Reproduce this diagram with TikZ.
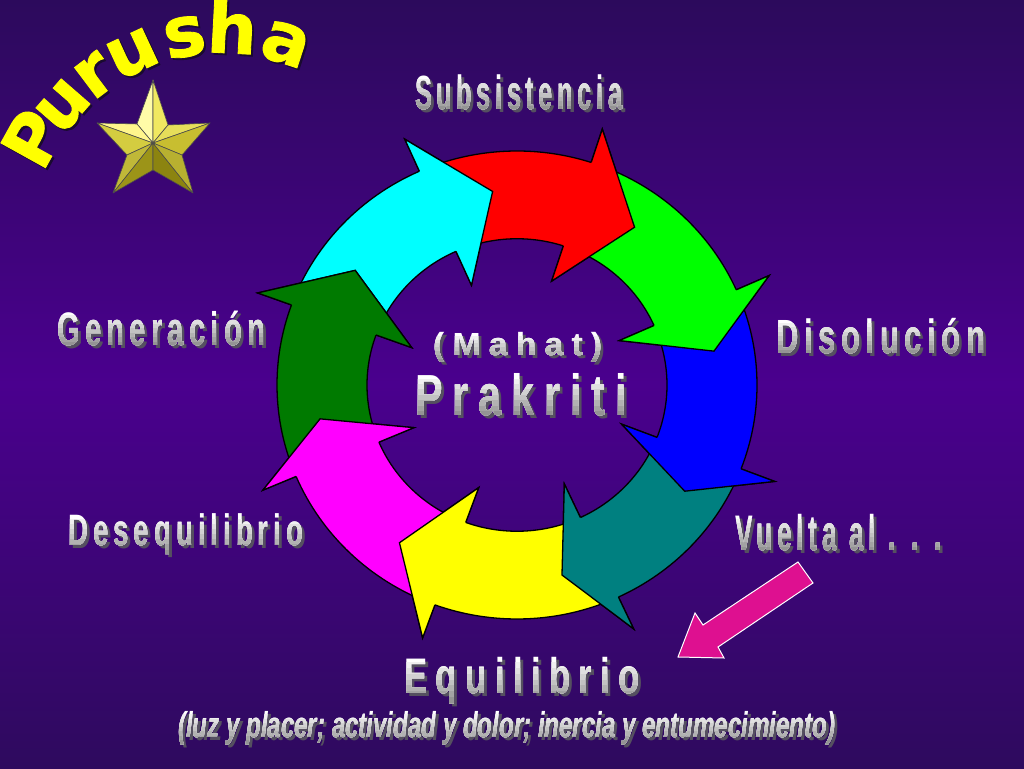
\documentclass[tikz,border=0pt]{standalone}
\usepackage{fontspec}
\setmainfont{Liberation Sans}
\newfontfamily\labf[LetterSpace=18]{Liberation Sans}
\newfontfamily\labw[LetterSpace=24]{Liberation Sans}
\newfontfamily\purf[BoldFeatures={FakeBold=1.2}]{DejaVu Sans}
\usetikzlibrary{calc}
\definecolor{bgtop}{HTML}{2C0A5C}
\definecolor{bgmid}{HTML}{4A008E}
\definecolor{bgbot}{HTML}{2E0A5E}
\definecolor{cyanA}{HTML}{00FFFF}
\definecolor{redA}{HTML}{FF0000}
\definecolor{greenA}{HTML}{00FF00}
\definecolor{blueA}{HTML}{0000FF}
\definecolor{tealA}{HTML}{008080}
\definecolor{yellowA}{HTML}{FFFF00}
\definecolor{magentaA}{HTML}{FF00FF}
\definecolor{dkgreenA}{HTML}{007A00}
\definecolor{pinkA}{HTML}{DE1090}
\definecolor{shadowc}{HTML}{555060}
\definecolor{purshadow}{HTML}{1A0A30}
\tikzset{
  ringline/.style={draw=black, line width=1.3pt, line join=miter},
  lblnode/.style={anchor=base west, inner sep=0pt},
  purletter/.style={anchor=base, inner sep=0pt, font=\purf\fontsize{70}{72}\selectfont\bfseries},
  starface/.style={draw=black!70, line width=0.6pt, line join=round}
}
\newcommand\glab[5]{%
  \node[lblnode, text=shadowc] (#1s) at (#2+3, 768-#3-3) {\resizebox{#4pt}{\height}{#5}};
  \node[lblnode, text=white] (#1) at (#2, 768-#3) {\resizebox{#4pt}{\height}{#5}};
  \foreach \k in {1,...,7} {
    \pgfmathtruncatemacro\pc{100-6*\k}
    \begin{scope}
      \clip ($(#1.north west)!\k/8!(#1.south west)+(-4,0)$) rectangle ($(#1.south east)+(4,-4)$);
      \node[lblnode, text=white!\pc!black] at (#2, 768-#3) {\resizebox{#4pt}{\height}{#5}};
    \end{scope}}%
}
\begin{document}
\begin{tikzpicture}[x=1pt,y=1pt]
\useasboundingbox (0,0) rectangle (1024,768);
\shade[top color=bgtop, bottom color=bgbot, middle color=bgmid] (0,0) rectangle (1024,768);

% ring of arrows
\begin{scope}[shift={(517,383)}, yscale=0.975]
  \foreach \c/\bp/\b/\t in {cyanA/160/114/97, redA/114/72/54, greenA/72/24/10, blueA/24/-21/-33,
      tealA/-21/-65/-77, yellowA/-65/-110/-126, magentaA/-110/-157/-170, dkgreenA/203/160/144} {
    \pgfmathsetmacro\bq{\bp-1}
    \path[fill=\c, ringline] (\bq:240) arc[start angle=\bq, end angle=\b, radius=240]
      -- (\b:276) -- (\t:200) -- (\b:112) -- (\b:150)
      arc[start angle=\b, end angle=\bq, radius=150] -- cycle;
  }
  \foreach \c/\b/\t in {cyanA/114/97, redA/72/54, greenA/24/10, blueA/-21/-33,
      tealA/-65/-77, yellowA/-110/-126, magentaA/-157/-170, dkgreenA/160/144} {
    \fill[\c] (\b:240) -- (\b:276) -- (\t:200) -- (\b:112) -- (\b:150) -- cycle;
    \draw[ringline] (\b:240) -- (\b:276) -- (\t:200) -- (\b:112) -- (\b:150);
  }
\end{scope}

% pink arrow
\coordinate (pa1) at (798,206);
\coordinate (pa2) at (703,143);
\coordinate (pa3) at (695,155);
\coordinate (patip) at (678,111);
\coordinate (pa5) at (724,110);
\coordinate (pa6) at (718,121);
\coordinate (pa7) at (813,185);
\filldraw[fill=pinkA, draw=white, line width=1pt, line join=miter]
  (pa1) -- (pa2) -- (pa3) -- (patip) -- (pa5) -- (pa6) -- (pa7) -- cycle;

% star
\coordinate (sc) at (153,625);
\coordinate (s0) at (153,688);
\coordinate (s1) at (210,645);
\coordinate (s2) at (193,575);
\coordinate (s3) at (113,575);
\coordinate (s4) at (97,645);
\coordinate (i0) at (168,643);
\coordinate (i1) at (182,613);
\coordinate (i2) at (153,598);
\coordinate (i3) at (127,613);
\coordinate (i4) at (137,644);
\filldraw[starface, fill={rgb,255:red,255;green,252;blue,168}] (sc) -- (s0) -- (i4) -- cycle;
\filldraw[starface, fill={rgb,255:red,240;green,232;blue,96}] (sc) -- (s0) -- (i0) -- cycle;
\filldraw[starface, fill={rgb,255:red,255;green,246;blue,140}] (sc) -- (s4) -- (i4) -- cycle;
\filldraw[starface, fill={rgb,255:red,212;green,204;blue,64}] (sc) -- (s4) -- (i3) -- cycle;
\filldraw[starface, fill={rgb,255:red,230;green,222;blue,90}] (sc) -- (s1) -- (i0) -- cycle;
\filldraw[starface, fill={rgb,255:red,200;green,190;blue,48}] (sc) -- (s1) -- (i1) -- cycle;
\filldraw[starface, fill={rgb,255:red,192;green,184;blue,56}] (sc) -- (s3) -- (i3) -- cycle;
\filldraw[starface, fill={rgb,255:red,156;green,148;blue,24}] (sc) -- (s3) -- (i2) -- cycle;
\filldraw[starface, fill={rgb,255:red,140;green,132;blue,16}] (sc) -- (s2) -- (i2) -- cycle;
\filldraw[starface, fill={rgb,255:red,184;green,176;blue,48}] (sc) -- (s2) -- (i1) -- cycle;

% Purusha
\foreach \ch/\ang [count=\n] in {P/151, u/139, r/127, u/115, s/100, h/87, a/72} {
  \node[purletter, text=purshadow, rotate=\ang-90] (ps\n) at ($(221,525)+(\ang:190)+(2,-2)$) {\ch};
  \node[purletter, text=yellowA, rotate=\ang-90] (pl\n) at ($(221,525)+(\ang:190)$) {\ch};
}

% labels
\glab{lsub}{415}{110}{207}{\labf\fontsize{48}{50}\selectfont\bfseries Subsistencia}
\glab{ldis}{776}{354}{209}{\labf\fontsize{48}{50}\selectfont\bfseries Disolución}
\glab{lgen}{57}{346}{208}{\labf\fontsize{47}{50}\selectfont\bfseries Generación}
\glab{ldes}{68}{546}{235}{\labf\fontsize{44}{50}\selectfont\bfseries Desequilibrio}
\glab{lvue}{735}{551}{207}{\labf\fontsize{50}{52}\selectfont\bfseries Vuelta al . . .}
\glab{lequ}{404}{693}{236}{\labw\fontsize{50}{52}\selectfont\bfseries Equilibrio}
\glab{lmah}{433}{356}{169}{\labw\fontsize{32}{34}\selectfont\bfseries (Mahat)}
\glab{lpra}{415}{416}{212}{\labw\fontsize{58}{60}\selectfont\bfseries Prakriti}
\glab{lsubt}{178}{737}{657}{\fontsize{36}{40}\selectfont\bfseries\itshape (luz y placer; actividad y dolor; inercia y entumecimiento)}
\end{tikzpicture}
\end{document}
